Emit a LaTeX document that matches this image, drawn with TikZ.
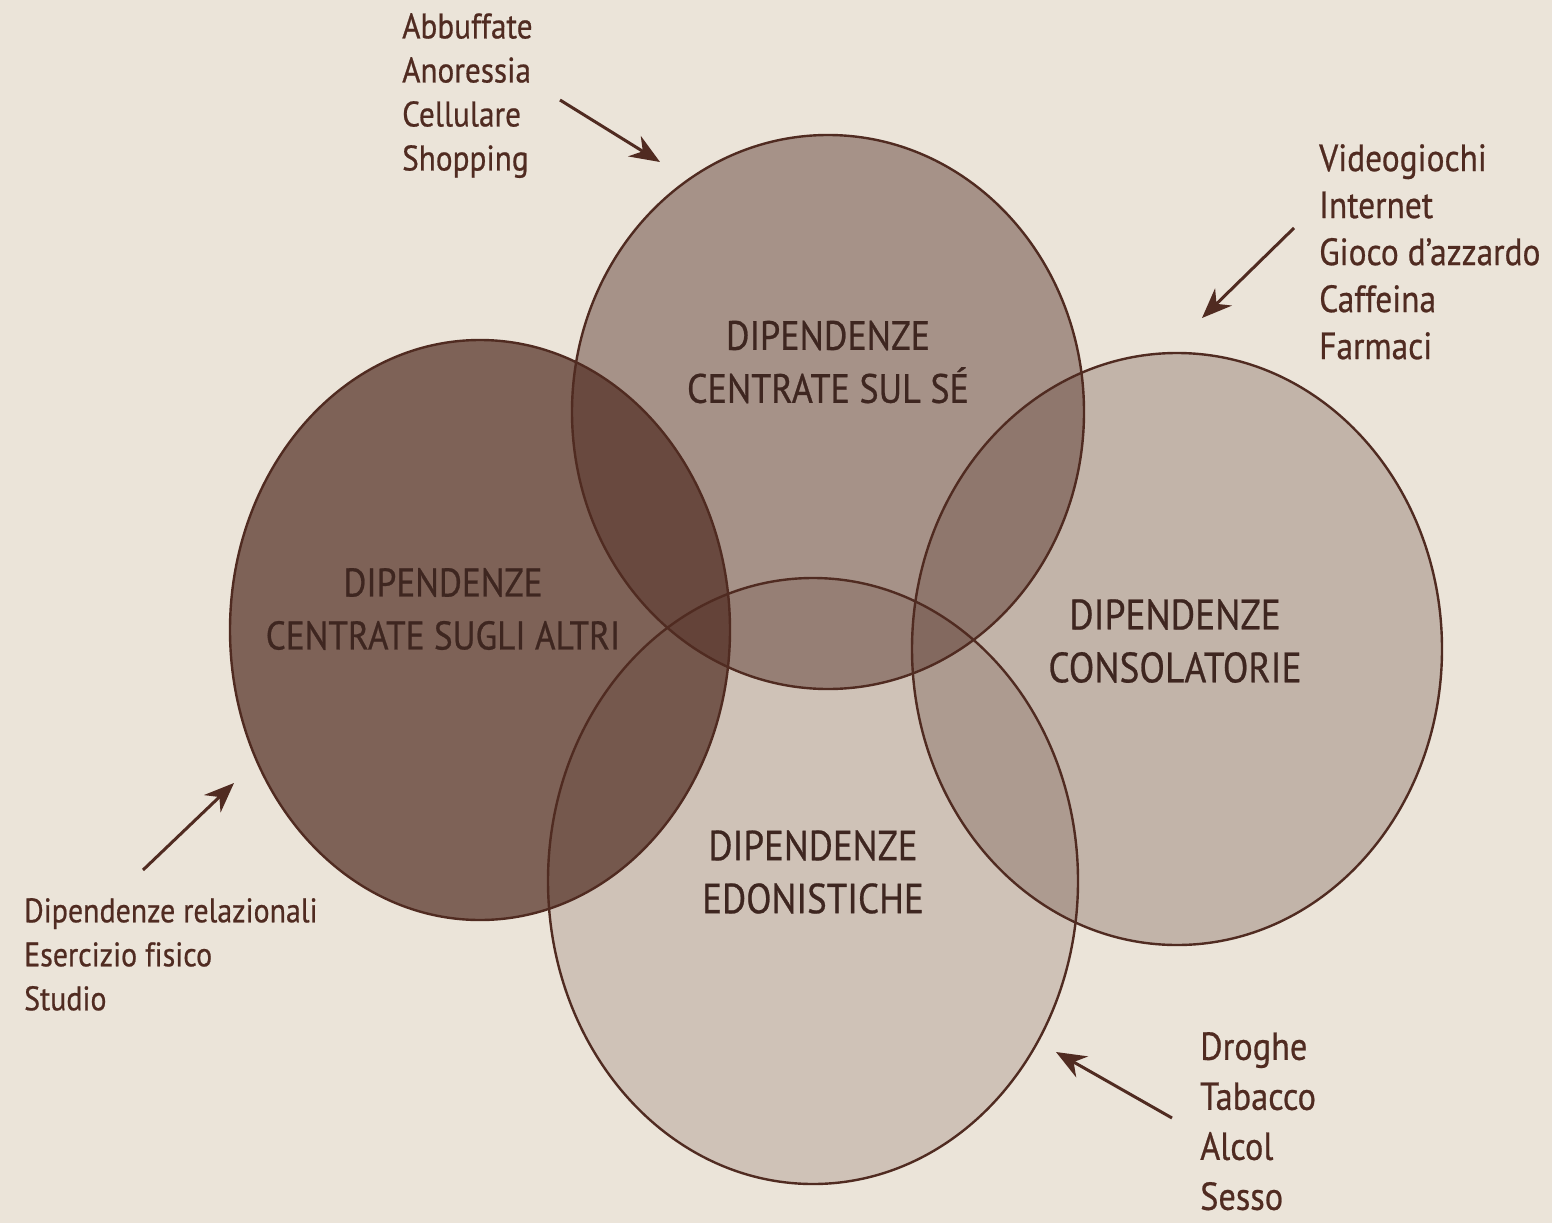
\documentclass[tikz,border=0pt]{standalone}
\usepackage{fontspec}
\setmainfont{PT Sans}[FakeStretch=0.88, FakeBold=0.6, Ligatures=NoCommon]
\usetikzlibrary{arrows.meta,positioning,shapes.geometric}
\definecolor{paper}{RGB}{235,228,217}
\definecolor{ink}{RGB}{80,43,33}
\definecolor{darkink}{RGB}{62,38,32}

\begin{document}
\begin{tikzpicture}[x=1pt, y=-1pt,
  bubble/.style={ellipse, draw=ink, line width=2.4pt, fill=ink, inner sep=0pt},
  title/.style={align=center, text=darkink, font=\fontsize{#1}{53}\selectfont},
  title/.default=40,
  items/.style 2 args={align=left, text=ink, inner sep=0pt, anchor=north west, font=\fontsize{#1}{#2}\selectfont},
  pointer/.style={-{Stealth[length=30pt, width=24pt]}, draw=ink, line width=3pt}
]
% paper
\fill[paper] (0,0) rectangle (1552,1223);
\useasboundingbox (0,0) rectangle (1552,1223);

% the four families of addiction
\node[bubble, fill opacity=0.70, minimum width=500pt, minimum height=580pt] (altri) at (480,630) {};
\node[bubble, fill opacity=0.44, minimum width=512pt, minimum height=554pt] (self) at (828,412) {};
\node[bubble, fill opacity=0.26, minimum width=530pt, minimum height=592pt] (cons) at (1177,649) {};
\node[bubble, fill opacity=0.18, minimum width=530pt, minimum height=606pt] (edon) at (813,881) {};

\node[title=41] (selfTag) at (828,362) {DIPENDENZE\\CENTRATE SUL SÉ};
\node[title] (altriTag) at (443,609) {DIPENDENZE\\CENTRATE SUGLI ALTRI};
\node[title=42.5] (consTag) at (1175,641) {DIPENDENZE\\CONSOLATORIE};
\node[title=42] (edonTag) at (813,872) {DIPENDENZE\\EDONISTICHE};

% examples for each family
\node[items={35.5}{44}] (selfList) at (402,13) {Abbuffate\\Anoressia\\Cellulare\\Shopping};
\node[items={38}{47}] (consList) at (1319,144) {Videogiochi\\Internet\\Gioco d’azzardo\\Caffeina\\Farmaci};
\node[items={34}{44}] (altriList) at (24,898) {Dipendenze relazionali\\Esercizio fisico\\Studio};
\node[items={39}{50}] (edonList) at (1200,1032) {Droghe\\Tabacco\\Alcol\\Sesso};

\coordinate (selfTail) at (560,100);
\coordinate (selfTip) at (660,162);
\coordinate (consTail) at (1294,228);
\coordinate (consTip) at (1202,318);
\coordinate (altriTail) at (143,870);
\coordinate (altriTip) at (234,783);
\coordinate (edonTail) at (1172,1118);
\coordinate (edonTip) at (1056,1052);

\draw[pointer] (selfTail) -- (selfTip);
\draw[pointer] (consTail) -- (consTip);
\draw[pointer] (altriTail) -- (altriTip);
\draw[pointer] (edonTail) -- (edonTip);
\end{tikzpicture}
\end{document}
